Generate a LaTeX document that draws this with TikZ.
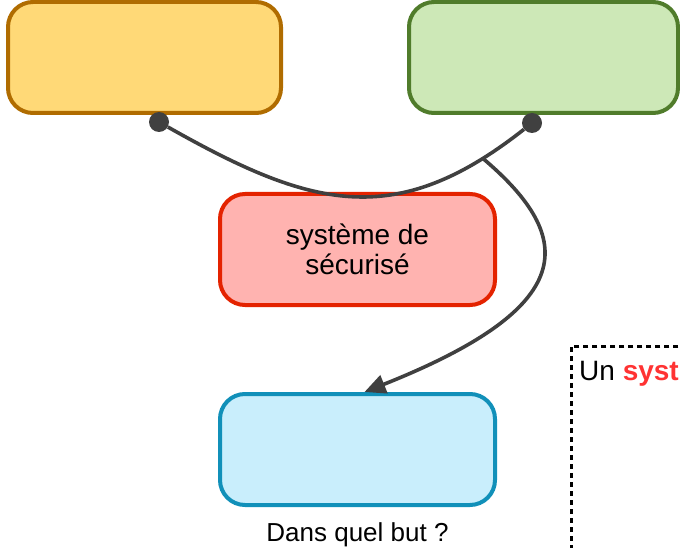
\documentclass[tikz,border=0pt]{standalone}
\usepackage{fontspec}
\setmainfont{Liberation Sans}
\usetikzlibrary{arrows.meta}
\usetikzlibrary{positioning}

\definecolor{linkgray}{HTML}{404040}
\definecolor{whofill}{HTML}{FFD977}
\definecolor{whostroke}{HTML}{B06C00}
\definecolor{whatfill}{HTML}{CDE8B7}
\definecolor{whatstroke}{HTML}{507C2B}
\definecolor{secufill}{HTML}{FFB3B0}
\definecolor{secustroke}{HTML}{E42300}
\definecolor{goalfill}{HTML}{C9EEFC}
\definecolor{goalstroke}{HTML}{1190B9}
\definecolor{keyred}{HTML}{FF3333}

\begin{document}
\begin{tikzpicture}[x=1pt,y=-1pt,
    font=\fontsize{26}{31}\selectfont,
    bigtext/.style={font=\fontsize{28}{29.5}\selectfont},
    box/.style={draw,rounded corners=25pt,line width=4pt,minimum width=275pt,minimum height=111pt,align=center},
    link/.style={draw=linkgray,line width=3.6pt},
    dot/.style={circle,fill=linkgray,inner sep=0pt,minimum size=20pt}]
    \useasboundingbox (0,0) rectangle (680,548);

    \node (who) at (144.5,57.5) [box,draw=whostroke,fill=whofill,minimum width=273pt]{};
    \node (what) at (543.5,57.5) [box,draw=whatstroke,fill=whatfill,minimum width=269pt]{};
    \node (secu) at (357.5,249.5) [box,bigtext,draw=secustroke,fill=secufill]{système de\\sécurisé};
    \node (goal) at (357.5,449.5) [box,draw=goalstroke,fill=goalfill]{};
    \node (goaltext) [below=15pt of goal,inner sep=0pt] {Dans quel but ?};

    \node (defbox) at (570,345) [draw,line width=2.5pt,dash pattern=on 5pt off 4pt,anchor=north west,minimum width=150pt,minimum height=230pt]{};
    \node (deftext) at ([xshift=9pt,yshift=-35pt]defbox.north west) [bigtext,anchor=base west,inner sep=0pt] {Un \textcolor{keyred}{\textbf{syst}}};

    \node (whodot) at (159,122) [dot]{};
    \node (whatdot) at (532,123) [dot]{};

    \draw[link] (whodot) .. controls (311,208) and (395,231) .. (whatdot) coordinate[pos=0.89] (split);
    \draw[link,-{Triangle[length=21pt,width=19pt]}] (split) .. controls (578,239) and (578,307) .. ([xshift=7pt]goal.north);
\end{tikzpicture}
\end{document}
